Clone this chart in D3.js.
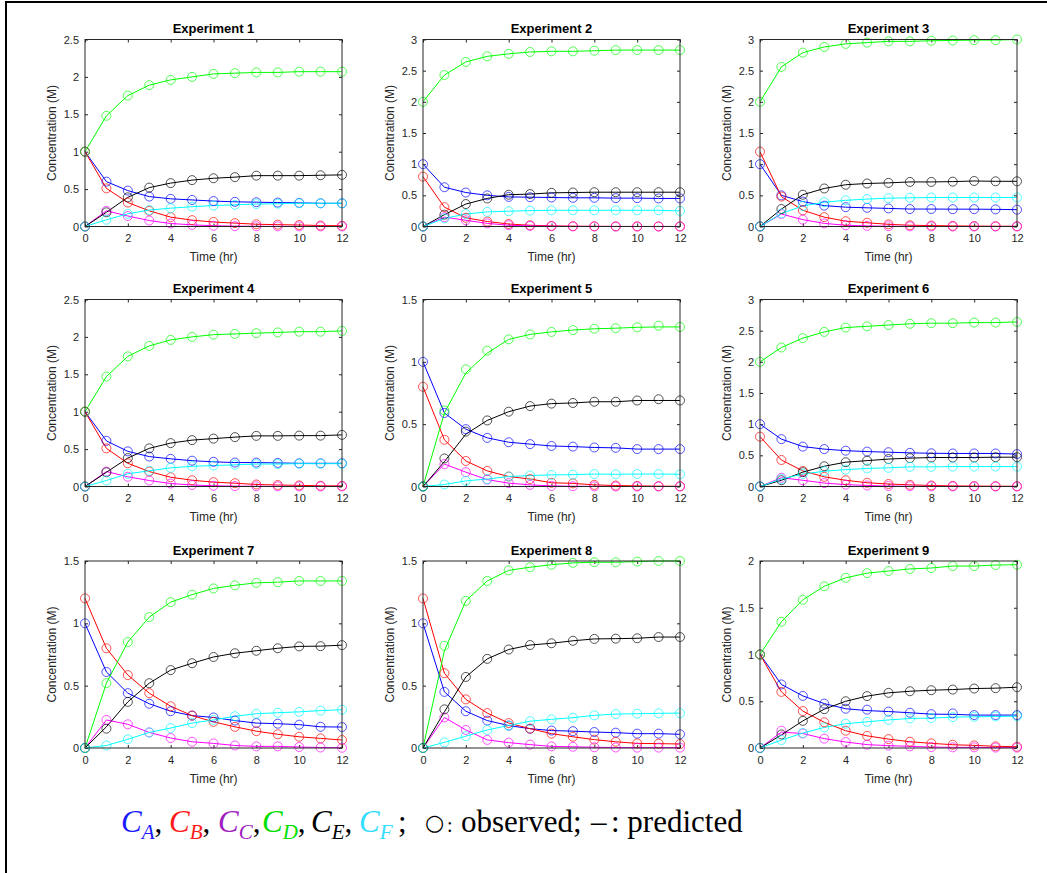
<!DOCTYPE html>
<meta charset="utf-8">
<script src="https://cdn.jsdelivr.net/npm/d3@7"></script>
<style>
  body { margin: 0; background: #fff; }
  .tick text { font-family: "Liberation Sans", Arial, sans-serif; font-size: 11px; fill: #262626; }
  .tick line { stroke: #262626; }
  .domain { display: none; }
  .lbl { font-family: "Liberation Sans", Arial, sans-serif; font-size: 12px; fill: #262626; }
  .ttl { font-family: "Liberation Sans", Arial, sans-serif; font-size: 13px; font-weight: bold; fill: #000; }
  .leg { font-family: "Liberation Serif", "Times New Roman", serif; font-size: 31px; fill: #000; }
</style>
<div id="chart"></div>
<script>
// time points (hr)
var times = [0, 1, 2, 3, 4, 5, 6, 7, 8, 9, 10, 11, 12];
var xTicks = [0, 2, 4, 6, 8, 10, 12];
var species = ["A", "B", "C", "D", "E", "F"];
var plotColors = ["#0000ff", "#ff0000", "#ff00ff", "#00ff00", "#000000", "#00ffff"];
var legendColors = ["#1a1aff", "#ff1a1a", "#a020c0", "#00e000", "#000000", "#33ddff"];
var titles = ["Experiment 1", "Experiment 2", "Experiment 3", "Experiment 4", "Experiment 5",
              "Experiment 6", "Experiment 7", "Experiment 8", "Experiment 9"];
var yMaxes = [2.5, 3, 3, 2.5, 1.5, 3, 1.5, 1.5, 2];

// observed values; rows = C_A .. C_F, columns = times
var exp1 = [
  [1.0, 0.60, 0.48, 0.40, 0.37, 0.355, 0.34, 0.33, 0.325, 0.32, 0.316, 0.31, 0.31],
  [1.0, 0.51, 0.32, 0.21, 0.125, 0.085, 0.06, 0.045, 0.03, 0.025, 0.02, 0.013, 0.01],
  [0, 0.21, 0.14, 0.08, 0.04, 0.022, 0.01, 0.005, 0.003, 0.002, 0.001, 0.001, 0.001],
  [1.0, 1.48, 1.75, 1.89, 1.96, 2.0, 2.04, 2.05, 2.06, 2.06, 2.07, 2.07, 2.07],
  [0, 0.19, 0.39, 0.52, 0.58, 0.62, 0.645, 0.66, 0.68, 0.68, 0.68, 0.685, 0.69],
  [0, 0.09, 0.17, 0.22, 0.245, 0.265, 0.28, 0.29, 0.30, 0.305, 0.31, 0.31, 0.31]
];
var exp2 = [
  [1.0, 0.63, 0.545, 0.50, 0.475, 0.47, 0.465, 0.46, 0.46, 0.455, 0.455, 0.45, 0.45],
  [0.8, 0.31, 0.14, 0.08, 0.04, 0.02, 0.01, 0.005, 0.003, 0.002, 0.001, 0.001, 0.001],
  [0, 0.15, 0.10, 0.05, 0.02, 0.01, 0.005, 0.002, 0.001, 0, 0, 0, 0],
  [2.0, 2.43, 2.64, 2.73, 2.77, 2.80, 2.81, 2.81, 2.82, 2.83, 2.83, 2.83, 2.83],
  [0, 0.19, 0.36, 0.45, 0.51, 0.52, 0.54, 0.545, 0.55, 0.55, 0.55, 0.55, 0.55],
  [0, 0.13, 0.20, 0.235, 0.245, 0.255, 0.26, 0.26, 0.26, 0.26, 0.26, 0.26, 0.25]
];
var exp3 = [
  [1.0, 0.50, 0.40, 0.335, 0.31, 0.30, 0.29, 0.28, 0.28, 0.278, 0.278, 0.275, 0.27],
  [1.2, 0.48, 0.26, 0.15, 0.085, 0.06, 0.035, 0.02, 0.015, 0.01, 0.007, 0.005, 0.004],
  [0, 0.20, 0.11, 0.05, 0.02, 0.01, 0.005, 0.002, 0.001, 0, 0, 0, 0],
  [2.0, 2.56, 2.79, 2.88, 2.93, 2.95, 2.97, 2.97, 2.98, 2.985, 2.99, 2.99, 3.0],
  [0, 0.28, 0.51, 0.61, 0.67, 0.69, 0.70, 0.715, 0.715, 0.72, 0.73, 0.725, 0.725],
  [0, 0.21, 0.33, 0.39, 0.42, 0.44, 0.455, 0.46, 0.465, 0.465, 0.465, 0.465, 0.465]
];
var exp4 = [
  [1.0, 0.61, 0.47, 0.40, 0.37, 0.345, 0.33, 0.32, 0.32, 0.315, 0.31, 0.31, 0.31],
  [1.0, 0.51, 0.31, 0.20, 0.124, 0.084, 0.058, 0.044, 0.027, 0.02, 0.015, 0.01, 0.008],
  [0, 0.20, 0.13, 0.08, 0.04, 0.02, 0.01, 0.005, 0.003, 0.002, 0.001, 0.001, 0.001],
  [1.0, 1.47, 1.74, 1.88, 1.96, 2.0, 2.03, 2.04, 2.05, 2.06, 2.07, 2.07, 2.08],
  [0, 0.19, 0.38, 0.51, 0.58, 0.62, 0.64, 0.66, 0.677, 0.677, 0.68, 0.68, 0.69],
  [0, 0.08, 0.17, 0.21, 0.25, 0.27, 0.28, 0.29, 0.30, 0.30, 0.305, 0.305, 0.305]
];
var exp5 = [
  [1.0, 0.59, 0.46, 0.39, 0.355, 0.34, 0.325, 0.32, 0.313, 0.31, 0.30, 0.30, 0.30],
  [0.8, 0.375, 0.205, 0.125, 0.08, 0.06, 0.03, 0.025, 0.013, 0.008, 0.005, 0.003, 0.002],
  [0, 0.18, 0.115, 0.055, 0.027, 0.013, 0.005, 0.002, 0.001, 0, 0, 0, 0],
  [0, 0.61, 0.94, 1.09, 1.18, 1.22, 1.24, 1.255, 1.265, 1.27, 1.277, 1.29, 1.28],
  [0, 0.225, 0.44, 0.53, 0.60, 0.645, 0.665, 0.67, 0.68, 0.68, 0.69, 0.70, 0.69],
  [0, 0.016, 0.045, 0.06, 0.08, 0.088, 0.093, 0.095, 0.10, 0.098, 0.10, 0.10, 0.098]
];
var exp6 = [
  [1.0, 0.76, 0.64, 0.60, 0.575, 0.56, 0.55, 0.54, 0.533, 0.53, 0.53, 0.53, 0.52],
  [0.8, 0.425, 0.25, 0.155, 0.10, 0.06, 0.04, 0.027, 0.016, 0.01, 0.007, 0.005, 0.004],
  [0, 0.14, 0.10, 0.055, 0.03, 0.017, 0.008, 0.004, 0.002, 0.001, 0, 0, 0],
  [2.0, 2.23, 2.38, 2.48, 2.55, 2.57, 2.59, 2.61, 2.62, 2.62, 2.63, 2.63, 2.64],
  [0, 0.10, 0.23, 0.325, 0.39, 0.415, 0.44, 0.455, 0.465, 0.465, 0.465, 0.47, 0.47],
  [0, 0.12, 0.20, 0.245, 0.27, 0.29, 0.30, 0.315, 0.315, 0.32, 0.32, 0.32, 0.32]
];
var exp7 = [
  [1.0, 0.61, 0.44, 0.355, 0.295, 0.26, 0.245, 0.22, 0.20, 0.195, 0.187, 0.17, 0.168],
  [1.2, 0.80, 0.585, 0.44, 0.335, 0.26, 0.21, 0.17, 0.135, 0.11, 0.09, 0.077, 0.064],
  [0, 0.225, 0.19, 0.125, 0.08, 0.05, 0.037, 0.02, 0.013, 0.013, 0.008, 0.004, 0.002],
  [0, 0.52, 0.85, 1.05, 1.17, 1.23, 1.28, 1.305, 1.325, 1.33, 1.34, 1.34, 1.34],
  [0, 0.155, 0.37, 0.52, 0.625, 0.68, 0.73, 0.76, 0.78, 0.80, 0.815, 0.817, 0.825],
  [0, 0.02, 0.07, 0.125, 0.16, 0.20, 0.225, 0.255, 0.275, 0.283, 0.29, 0.30, 0.307]
];
var exp8 = [
  [1.0, 0.45, 0.295, 0.22, 0.18, 0.155, 0.14, 0.135, 0.128, 0.123, 0.115, 0.115, 0.11],
  [1.2, 0.60, 0.39, 0.28, 0.20, 0.155, 0.115, 0.09, 0.067, 0.05, 0.037, 0.035, 0.032],
  [0, 0.245, 0.145, 0.065, 0.043, 0.027, 0.013, 0.01, 0.006, 0.004, 0.003, 0.003, 0.003],
  [0, 0.82, 1.18, 1.34, 1.425, 1.45, 1.47, 1.485, 1.49, 1.49, 1.495, 1.5, 1.5],
  [0, 0.31, 0.57, 0.715, 0.79, 0.826, 0.84, 0.86, 0.875, 0.877, 0.88, 0.89, 0.89],
  [0, 0.045, 0.095, 0.145, 0.18, 0.215, 0.23, 0.243, 0.262, 0.272, 0.275, 0.278, 0.28]
];
var exp9 = [
  [1.0, 0.68, 0.557, 0.475, 0.42, 0.41, 0.39, 0.377, 0.362, 0.37, 0.352, 0.352, 0.352],
  [1.0, 0.60, 0.395, 0.275, 0.185, 0.13, 0.095, 0.067, 0.05, 0.035, 0.028, 0.018, 0.014],
  [0, 0.185, 0.155, 0.10, 0.064, 0.036, 0.025, 0.018, 0.01, 0.007, 0.007, 0.004, 0.004],
  [1.0, 1.35, 1.585, 1.73, 1.82, 1.87, 1.893, 1.915, 1.925, 1.946, 1.946, 1.957, 1.96],
  [0, 0.145, 0.29, 0.415, 0.50, 0.555, 0.59, 0.607, 0.618, 0.625, 0.636, 0.64, 0.65],
  [0, 0.085, 0.16, 0.22, 0.26, 0.28, 0.30, 0.316, 0.32, 0.33, 0.334, 0.337, 0.34]
];
var experiments = [exp1, exp2, exp3, exp4, exp5, exp6, exp7, exp8, exp9];

// where the predicted curve visibly misses the observed circle:
// [experiment, species index, time index, predicted value]
var predictedDiffs = [
  [5, 3, 1, 0.59], [5, 3, 2, 0.91], [5, 3, 3, 1.07], [5, 3, 11, 1.28],
  [5, 4, 1, 0.20], [5, 4, 2, 0.42], [5, 4, 11, 0.69],
  [7, 4, 1, 0.17], [8, 3, 1, 0.78], [8, 4, 1, 0.29],
  [9, 2, 1, 0.17], [9, 4, 1, 0.14], [9, 0, 9, 0.36], [9, 0, 5, 0.40]
];

// layout
var W = 1047, H = 873;
var colX = [85, 423, 760], rowY = [39.5, 299.5, 561];
var pw = 257, ph = 187;

var svg = d3.select("#chart").append("svg")
    .attr("width", W).attr("height", H);

// outer frame (right/bottom edges fall outside the picture)
svg.append("rect")
  .attr("x", 6).attr("y", 2)
  .attr("width", W + 20).attr("height", H + 20)
  .attr("fill", "none").attr("stroke", "#000").attr("stroke-width", 2);

var x = d3.scaleLinear().domain([0, 12]).range([0, pw]);

experiments.forEach(function(exp, i) {
  var g = svg.append("g")
    .attr("transform", "translate(" + colX[i % 3] + "," + rowY[Math.floor(i / 3)] + ")");

  var y = d3.scaleLinear().domain([0, yMaxes[i]]).range([ph, 0]);
  var yTicks = d3.range(0, yMaxes[i] + 0.001, 0.5);

  // axes with inward ticks on all four sides
  g.append("g").attr("transform", "translate(0," + ph + ")")
    .call(d3.axisBottom(x).tickValues(xTicks).tickSizeInner(-3).tickSizeOuter(0).tickPadding(8));
  g.append("g")
    .call(d3.axisTop(x).tickValues(xTicks).tickSizeInner(-3).tickSizeOuter(0).tickFormat(""));
  g.append("g")
    .call(d3.axisLeft(y).tickValues(yTicks).tickSizeInner(-3).tickSizeOuter(0).tickPadding(6)
      .tickFormat(d3.format("")));
  g.append("g").attr("transform", "translate(" + pw + ",0)")
    .call(d3.axisRight(y).tickValues(yTicks).tickSizeInner(-3).tickSizeOuter(0).tickFormat(""));

  // predicted lines
  exp.forEach(function(vals, s) {
    var pred = vals.slice();
    predictedDiffs.forEach(function(p) {
      if (p[0] == i + 1 && p[1] == s) pred[p[2]] = p[3];
    });
    g.append("path")
      .datum(times.map(function(t, k) { return [t, pred[k]]; }))
      .attr("fill", "none")
      .attr("stroke", plotColors[s])
      .attr("stroke-width", 1)
      .attr("d", d3.line().x(function(d) { return x(d[0]); }).y(function(d) { return y(d[1]); }));
  });
  // observed circles
  exp.forEach(function(vals, s) {
    g.selectAll(null)
      .data(times.map(function(t, k) { return [t, vals[k]]; }))
      .enter().append("circle")
      .attr("cx", function(d) { return x(d[0]); })
      .attr("cy", function(d) { return y(d[1]); })
      .attr("r", 4.5)
      .attr("fill", "none")
      .attr("stroke", plotColors[s])
      .attr("stroke-opacity", 0.75)
      .attr("stroke-width", 0.9);
  });

  // box
  g.append("rect")
    .attr("width", pw).attr("height", ph)
    .attr("fill", "none").attr("stroke", "#262626").attr("stroke-width", 1);

  g.append("text").attr("class", "ttl")
    .attr("x", pw / 2).attr("y", -6.5)
    .attr("text-anchor", "middle")
    .text(titles[i]);
  g.append("text").attr("class", "lbl")
    .attr("x", pw / 2).attr("y", ph + 34.5)
    .attr("text-anchor", "middle")
    .text("Time (hr)");
  g.append("text").attr("class", "lbl")
    .attr("transform", "translate(-29," + (ph / 2) + ")rotate(-90)")
    .attr("text-anchor", "middle")
    .text("Concentration (M)");
});

// legend line at the bottom
var legY = 832;
var legX = [121, 169, 218, 262, 311, 359];
species.forEach(function(sp, s) {
  var t = svg.append("text").attr("class", "leg")
    .attr("x", legX[s]).attr("y", legY);
  t.append("tspan")
    .attr("fill", legendColors[s]).style("font-style", "italic")
    .text("C");
  t.append("tspan")
    .attr("fill", legendColors[s]).style("font-style", "italic")
    .style("font-size", "21px").attr("dy", 7)
    .text(sp);
  t.append("tspan")
    .attr("dy", -7)
    .text(s < species.length - 1 ? "," : "");
});
svg.append("text").attr("class", "leg").attr("x", 398).attr("y", legY).text(";");
svg.append("text").attr("class", "leg").attr("x", 425).attr("y", legY - 2)
  .style("font-family", "'DejaVu Sans', sans-serif").style("font-size", "22px")
  .text("\u25CB");
svg.append("text").attr("class", "leg").attr("x", 447).attr("y", legY)
  .style("font-size", "20px").text(":");
svg.append("text").attr("class", "leg").attr("x", 461).attr("y", legY).text("observed;");
svg.append("text").attr("class", "leg").attr("x", 591).attr("y", legY).text("\u2013");
svg.append("text").attr("class", "leg").attr("x", 611).attr("y", legY).text(": predicted");
</script>
